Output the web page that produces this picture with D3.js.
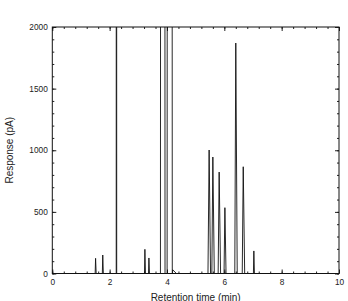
<!DOCTYPE html>
<html>
<head>
<meta charset="utf-8">
<script src="https://cdn.jsdelivr.net/npm/d3@7"></script>
<style>
  body { margin: 0; background: #fff; }
  svg { display: block; font-family: "Liberation Sans", Arial, sans-serif; }
</style>
</head>
<body>
<div id="chart"></div>
<script>
// Chromatogram: response vs retention time
// each peak: baseline start, apex time, baseline end, apex height (pA)
const peakLeft   = [1.495, 1.745, 2.230, 3.215, 3.355, 3.772, 4.005, 4.19, 5.43, 5.565, 5.785, 5.99, 6.365, 6.625, 7.015];
const peakApex   = [1.51,  1.76,  2.238, 3.23,  3.37,  3.85,  4.09,  4.20, 5.47, 5.60,  5.82,  6.02, 6.40,  6.66,  7.03];
const peakRight  = [1.53,  1.78,  2.246, 3.25,  3.39,  3.932, 4.185, 4.33, 5.52, 5.65,  5.87,  6.06, 6.45,  6.71,  7.05];
const peakHeight = [123,   150,   40000, 196,   126,   60000, 60000, 30,   1002, 945,   823,   534,  1870,  866,   183];

const xTicks = [0, 2, 4, 6, 8, 10];
const yTicks = [0, 500, 1000, 1500, 2000];

const width = 348;
const height = 301;
const margin = { top: 27, right: 9, bottom: 27.5, left: 52.3 };

// build trace points from peak table
const trace = [[0, 0]];
peakApex.forEach((t, i) => {
    trace.push([peakLeft[i], 0], [t, peakHeight[i]], [peakRight[i], 0]);
});
trace.push([10, 0]);

const svg = d3.select("#chart")
    .append("svg")
    .attr("width", width)
    .attr("height", height);

const x = d3.scaleLinear()
    .domain([0, 10])
    .range([margin.left, width - margin.right]);

const y = d3.scaleLinear()
    .domain([0, 2000])
    .range([height - margin.bottom, margin.top]);

const minorX = d3.range(0, 10.001, 0.4);
const minorY = d3.range(0, 2001, 100);

svg.append("defs").append("clipPath")
    .attr("id", "plot")
    .append("rect")
    .attr("x", x(0))
    .attr("y", y(2000))
    .attr("width", x(10) - x(0))
    .attr("height", y(0) - y(2000));

// minor ticks on all four sides (inward)
const minorAxes = [
    [d3.axisBottom(x), `translate(0,${y(0)})`, minorX],
    [d3.axisTop(x), `translate(0,${y(2000)})`, minorX],
    [d3.axisLeft(y), `translate(${x(0)},0)`, minorY],
    [d3.axisRight(y), `translate(${x(10)},0)`, minorY]
];
minorAxes.forEach(([ax, tr, vals]) => {
    svg.append("g")
        .attr("transform", tr)
        .call(ax.tickValues(vals).tickSizeInner(-2).tickSizeOuter(0).tickFormat(""))
        .call(g => g.select(".domain").remove())
        .selectAll("line").attr("stroke", "#222");
});

// major ticks
const xAxis = svg.append("g")
    .attr("transform", `translate(0,${y(0)})`)
    .call(d3.axisBottom(x).tickValues(xTicks).tickSizeInner(-4).tickSizeOuter(0).tickPadding(6).tickFormat(d3.format("d")));
const yAxis = svg.append("g")
    .attr("transform", `translate(${x(0)},0)`)
    .call(d3.axisLeft(y).tickValues(yTicks).tickSizeInner(-4).tickSizeOuter(0).tickPadding(4.5).tickFormat(d3.format("d")));
svg.append("g")
    .attr("transform", `translate(0,${y(2000)})`)
    .call(d3.axisTop(x).tickValues(xTicks).tickSizeInner(-4).tickSizeOuter(0).tickFormat(""));
svg.append("g")
    .attr("transform", `translate(${x(10)},0)`)
    .call(d3.axisRight(y).tickValues(yTicks).tickSizeInner(-4).tickSizeOuter(0).tickFormat(""));

svg.selectAll(".domain").remove();
svg.selectAll(".tick line").attr("stroke", "#222");
[xAxis, yAxis].forEach(g => g.selectAll("text")
    .attr("font-size", 8.3)
    .attr("font-family", "Liberation Sans, Arial, sans-serif")
    .attr("fill", "#222"));

// trace
svg.append("path")
    .datum(trace)
    .attr("clip-path", "url(#plot)")
    .attr("fill", "none")
    .attr("stroke", "#111")
    .attr("stroke-width", 0.9)
    .attr("d", d3.line().x(d => x(d[0])).y(d => y(d[1])));

// frame
svg.append("rect")
    .attr("x", x(0))
    .attr("y", y(2000))
    .attr("width", x(10) - x(0))
    .attr("height", y(0) - y(2000))
    .attr("fill", "none")
    .attr("stroke", "#111")
    .attr("stroke-width", 1);

svg.append("text")
    .attr("transform", `translate(12.5,${(y(0) + y(2000)) / 2}) rotate(-90)`)
    .attr("text-anchor", "middle")
    .attr("font-size", 10)
    .attr("fill", "#222")
    .text("Response (pA)");

svg.append("text")
    .attr("x", (x(0) + x(10)) / 2)
    .attr("y", 300.5)
    .attr("text-anchor", "middle")
    .attr("font-size", 10)
    .attr("fill", "#222")
    .text("Retention time (min)");
</script>
</body>
</html>
